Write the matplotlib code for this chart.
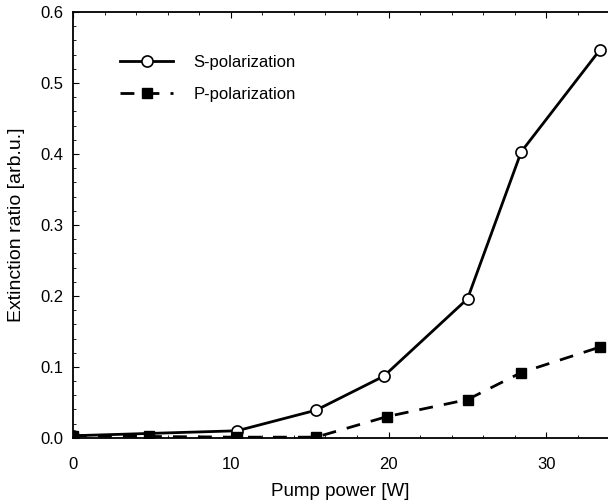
import numpy as np
from matplotlib import pyplot as plt
from matplotlib.ticker import MultipleLocator

plt.rcParams['font.family'] = ['Liberation Sans', 'DejaVu Sans']

# Data
power_s = [0, 10.4, 15.4, 19.7, 25.0, 28.4, 33.4]
ratio_s = [0.003, 0.010, 0.039, 0.087, 0.196, 0.403, 0.547]

power_p = [0, 4.8, 10.4, 15.4, 19.9, 25.0, 28.4, 33.4]
ratio_p = [0.003, 0.002, 0.001, 0.001, 0.030, 0.054, 0.092, 0.128]

fig = plt.figure(figsize=(6.08, 5.01), dpi=100)
ax = fig.add_axes([0.12, 0.126, 0.88, 0.85])

ax.plot(power_s, ratio_s, '-', color='black', lw=2, marker='o', ms=8,
        mfc='white', mec='black', mew=1.2, label='S-polarization')
ax.plot(power_p, ratio_p, '--', color='black', lw=2, dashes=(5, 4), marker='s', ms=7,
        mfc='black', mec='black', label='P-polarization')

ax.set_xlim(0, 33.9)
ax.set_ylim(0, 0.6)
ax.xaxis.set_major_locator(MultipleLocator(10))
ax.xaxis.set_minor_locator(MultipleLocator(2))
ax.yaxis.set_major_locator(MultipleLocator(0.1))
ax.yaxis.set_minor_locator(MultipleLocator(0.02))
ax.yaxis.set_major_formatter(plt.FormatStrFormatter('%.1f'))

ax.tick_params(which='both', direction='in', top=True, right=False, labelsize=12)
ax.tick_params(which='major', length=4)
ax.tick_params(which='minor', length=2)
ax.tick_params(axis='x', which='major', pad=14)
ax.tick_params(axis='y', which='major', pad=7)
ax.spines['right'].set_visible(False)
for s in ['left', 'bottom', 'top']:
    ax.spines[s].set_linewidth(1.3)

ax.set_xlabel('Pump power [W]', fontsize=13.5, labelpad=8)
ax.set_ylabel('Extinction ratio [arb.u.]', fontsize=14, labelpad=11)

ax.legend(loc='upper left', bbox_to_anchor=(0.06, 0.935), frameon=False,
          fontsize=12, handlelength=3.2, handletextpad=1.2, labelspacing=1.05)

fig.savefig('out.png', dpi=100)
